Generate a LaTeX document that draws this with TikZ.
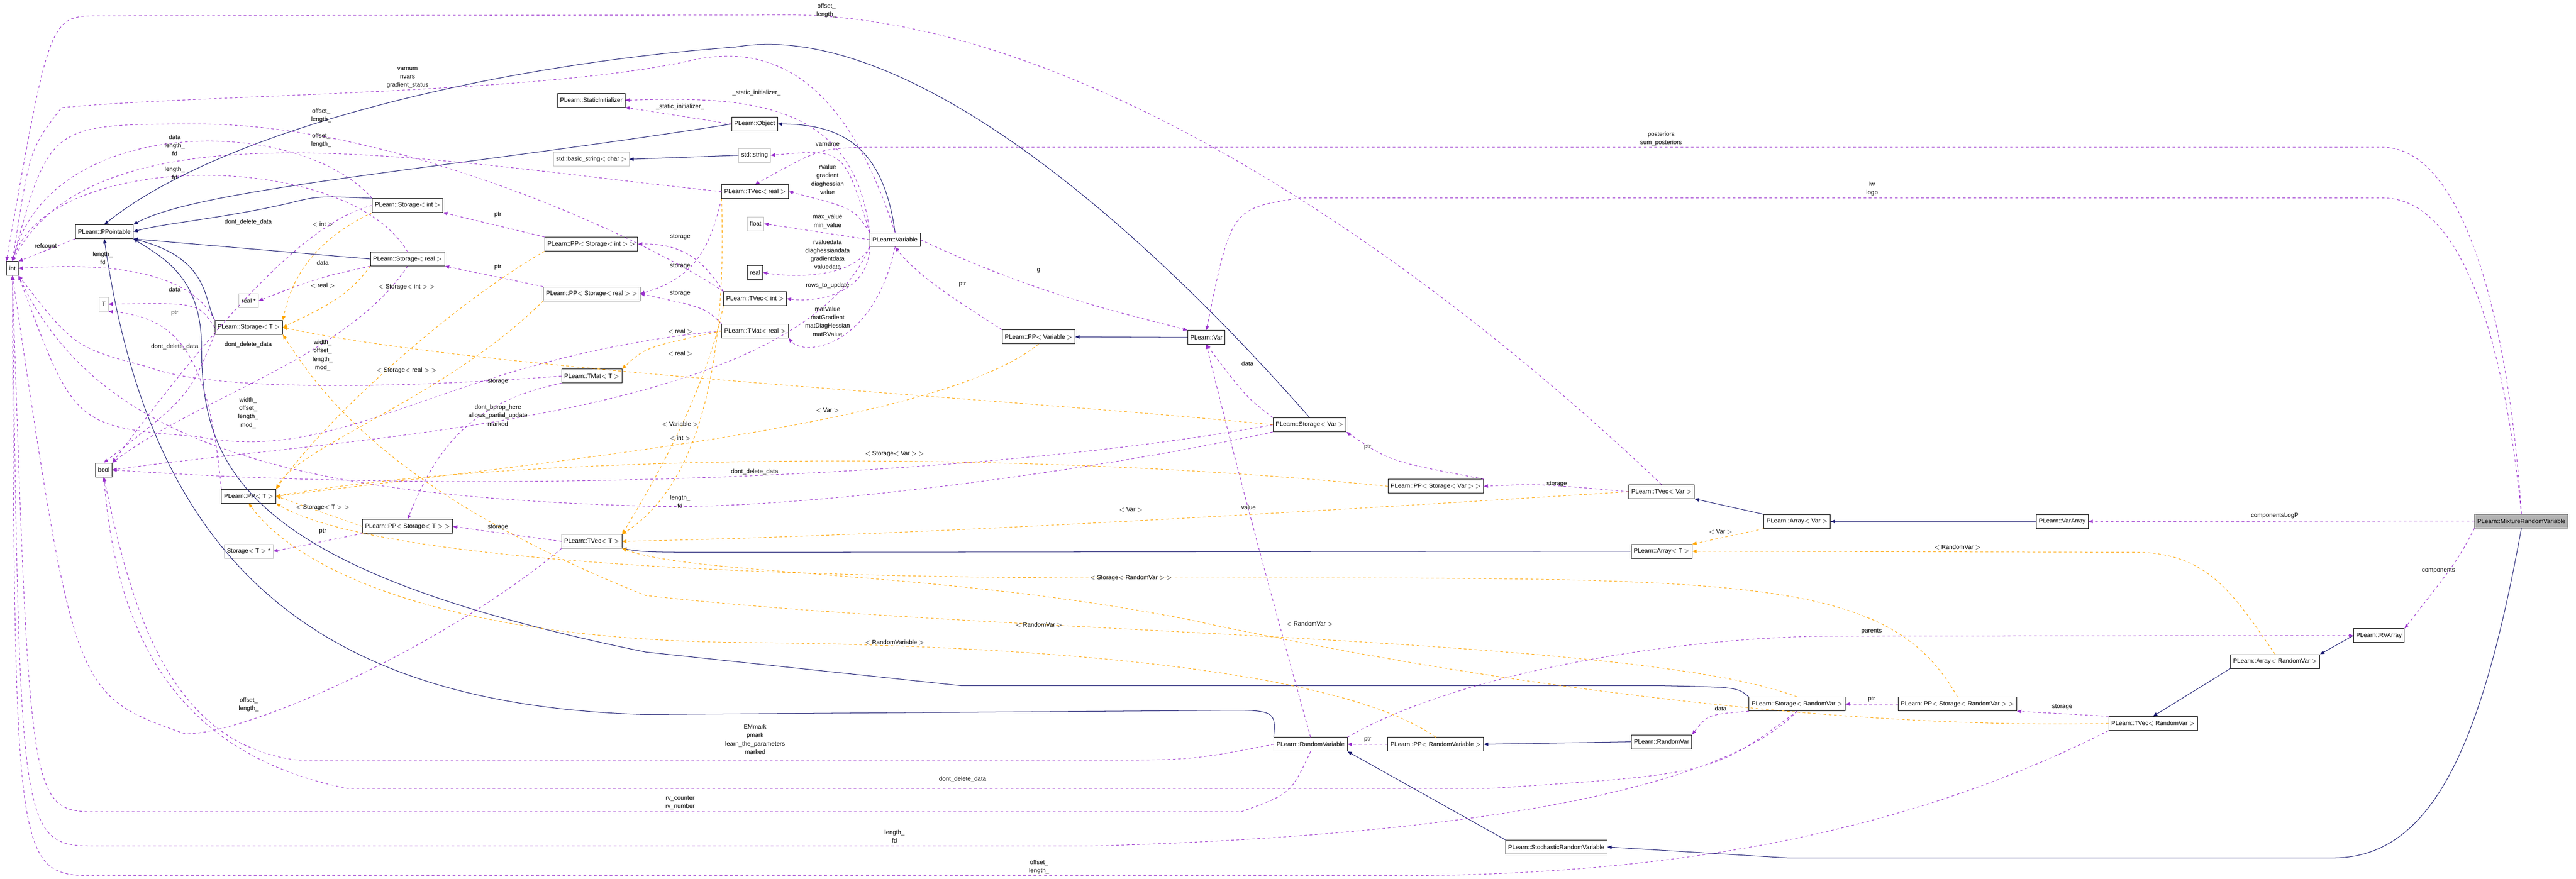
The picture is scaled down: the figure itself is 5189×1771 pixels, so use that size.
\documentclass[tikz,border=0pt]{standalone}
\usepackage{fontspec}
\setmainfont{Liberation Sans}
\usepackage{tikz}
\usetikzlibrary{arrows.meta}
\definecolor{inhcol}{HTML}{191970}
\definecolor{usecol}{HTML}{9A32CD}
\definecolor{tplcol}{HTML}{FFA500}
\tikzset{
  cls/.style={draw=black,line width=0.5pt,fill=white,minimum height=0.56cm,inner xsep=3pt,inner ysep=1pt,font=\fontsize{7}{8}\selectfont},
  extcls/.style={cls,draw=gray!50},
  lbl/.style={align=center,inner sep=0pt,font=\fontsize{7}{9.6}\selectfont},
  inh/.style={draw=inhcol,line width=0.6pt,-{Triangle[length=5pt,width=4pt]}},
  use/.style={draw=usecol,dashed,line width=0.6pt,-{Triangle[length=5pt,width=4pt]}},
  tpl/.style={draw=tplcol,dashed,line width=0.6pt,-{Triangle[length=5pt,width=4pt]}}
}
\begin{document}
\begin{tikzpicture}[x=0.02cm,y=-0.02cm]
\useasboundingbox (0,0) rectangle (5189,1771);
% classes
\node[cls] (Int) at (25,541) {int};
\node[cls] (PPointable) at (210,467) {PLearn::PPointable};
\node[cls] (Bool) at (209,947) {bool};
\node[extcls] (TT) at (209,613) {T};
\node[cls] (StorageInt) at (821,414) {PLearn::Storage$<$ int $>$};
\node[cls] (StorageReal) at (821,522) {PLearn::Storage$<$ real $>$};
\node[cls] (StorageT) at (501,660) {PLearn::Storage$<$ T $>$};
\node[extcls] (RealPtr) at (501,606) {real *};
\node[cls] (PPT) at (501,1000) {PLearn::PP$<$ T $>$};
\node[cls] (PPStorageT) at (821,1061) {PLearn::PP$<$ Storage$<$ T $>$ $>$};
\node[extcls] (StorageTPtr) at (501,1111) {Storage$<$ T $>$ *};
\node[cls] (StaticInit) at (1191,202) {PLearn::StaticInitializer};
\node[extcls] (BasicString) at (1191,321) {std::basic\_string$<$ char $>$};
\node[cls] (PPStorageInt) at (1191,492) {PLearn::PP$<$ Storage$<$ int $>$ $>$};
\node[cls] (PPStorageReal) at (1192,592) {PLearn::PP$<$ Storage$<$ real $>$ $>$};
\node[cls] (TMatT) at (1192,758) {PLearn::TMat$<$ T $>$};
\node[cls] (TVecT) at (1192,1091) {PLearn::TVec$<$ T $>$};
\node[cls] (Object) at (1520,250) {PLearn::Object};
\node[extcls] (StdString) at (1520,313) {std::string};
\node[cls] (TVecReal) at (1521,386) {PLearn::TVec$<$ real $>$};
\node[extcls] (Float) at (1522,451) {float};
\node[cls] (Real) at (1521,549) {real};
\node[cls] (TVecInt) at (1521,602) {PLearn::TVec$<$ int $>$};
\node[cls] (TMatReal) at (1521,667) {PLearn::TMat$<$ real $>$};
\node[cls] (Variable) at (1803,483) {PLearn::Variable};
\node[cls] (PPVariable) at (2092,679) {PLearn::PP$<$ Variable $>$};
\node[cls] (Var) at (2430,680) {PLearn::Var};
\node[cls] (StorageVar) at (2638,856) {PLearn::Storage$<$ Var $>$};
\node[cls] (PPStorageVar) at (2892,980) {PLearn::PP$<$ Storage$<$ Var $>$ $>$};
\node[cls] (TVecVar) at (3347,991) {PLearn::TVec$<$ Var $>$};
\node[cls] (ArrayVar) at (3620,1051) {PLearn::Array$<$ Var $>$};
\node[cls] (VarArray) at (4154,1051) {PLearn::VarArray};
\node[cls] (ArrayT) at (3347,1111) {PLearn::Array$<$ T $>$};
\node[cls] (RandomVariable) at (2640,1500) {PLearn::RandomVariable};
\node[cls] (PPRandomVariable) at (2892,1500) {PLearn::PP$<$ RandomVariable $>$};
\node[cls] (RandomVar) at (3347,1495) {PLearn::RandomVar};
\node[cls] (StorageRandomVar) at (3620,1419) {PLearn::Storage$<$ RandomVar $>$};
\node[cls] (PPStorageRandomVar) at (3943,1419) {PLearn::PP$<$ Storage$<$ RandomVar $>$ $>$};
\node[cls] (TVecRandomVar) at (4337,1458) {PLearn::TVec$<$ RandomVar $>$};
\node[cls] (ArrayRandomVar) at (4583,1333) {PLearn::Array$<$ RandomVar $>$};
\node[cls] (RVArray) at (4792,1281) {PLearn::RVArray};
\node[cls] (StochasticRV) at (3135,1707) {PLearn::StochasticRandomVariable};
\node[cls,fill=gray!60] (Mixture) at (5079,1050) {PLearn::MixtureRandomVariable};

% inheritance
\draw[inh] (StorageInt.north west) .. controls (640,395) .. (580,410) .. controls (450,440) and (330,450) .. (PPointable.east);
\draw[inh] (StorageReal.west) -- (PPointable.south east);
\draw[inh] (StorageT.north west) .. controls (410,600) and (420,520) .. (PPointable.south east);
\draw[inh] (Object.west) .. controls (900,340) and (400,380) .. (PPointable.north east);
\draw[inh] (Variable.north) .. controls (1780,300) and (1700,250) .. (Object.east);
\draw[inh] (StdString.west) -- (BasicString.east);
\draw[inh] (StorageVar.north) .. controls (2250,400) and (1800,40) .. (1480,95) .. controls (1000,130) and (450,260) .. (PPointable.north);
\draw[inh] (RandomVariable.north west) .. controls (2570,1430) .. (2430,1432) -- (1300,1440) .. controls (600,1420) and (300,1100) .. (PPointable.south);
\draw[inh] (StorageRandomVar.north west) .. controls (3500,1385) .. (3350,1382) -- (1937,1382) -- (1300,1314) .. controls (500,1150) and (406,950) .. (406,700) .. controls (406,560) and (330,520) .. (PPointable.south east);
\draw[inh] (Var.west) -- (PPVariable.east);
\draw[inh] (ArrayVar.north west) -- (TVecVar.south east);
\draw[inh] (VarArray.west) -- (ArrayVar.east);
\draw[inh] (ArrayT.west) -- (1500,1113) .. controls (1300,1113) .. (TVecT.south east);
\draw[inh] (RandomVar.west) -- (PPRandomVariable.east);
\draw[inh] (StochasticRV.north west) -- (RandomVariable.south east);
\draw[inh] (Mixture.south) .. controls (5000,1500) and (4900,1729) .. (4700,1729) -- (3600,1729) -- (StochasticRV.east);
\draw[inh] (RVArray.west) -- (ArrayRandomVar.north east);
\draw[inh] (ArrayRandomVar.south west) -- (TVecRandomVar.north);

% members
\draw[use] (PPointable.south west) -- (Int.north east);
\draw[use] (StorageInt.north west) .. controls (600,230) and (100,230) .. (Int.north);
\draw[use] (StorageReal.north) .. controls (700,300) and (100,300) .. (Int.north);
\draw[use] (StorageT.north west) .. controls (380,540) and (200,530) .. (Int.east);
\draw[use] (Variable.north) .. controls (1700,150) and (1550,90) .. (1400,120) .. controls (1100,190) and (400,190) .. (124,217) .. controls (60,300) .. (Int.north);
\draw[use] (TVecReal.west) .. controls (900,330) and (200,190) .. (Int.north);
\draw[use] (TVecInt.north west) .. controls (1300,480) and (800,250) .. (400,250) .. controls (100,250) .. (Int.north);
\draw[use] (TVecVar.north) .. controls (2900,550) and (2200,40) .. (1600,30) -- (200,32) .. controls (100,32) .. (Int.north west);
\draw[use] (TMatT.west) .. controls (700,790) and (400,780) .. (300,740) .. controls (150,700) .. (Int.south east);
\draw[use] (TMatReal.west) .. controls (900,720) and (700,940) .. (400,880) .. controls (150,860) .. (Int.south east);
\draw[use] (TVecT.south west) .. controls (900,1300) and (500,1480) .. (373,1479) .. controls (150,1400) .. (Int.south);
\draw[use] (RandomVariable.south) .. controls (2600,1600) .. (2500,1636) -- (200,1636) .. controls (60,1636) .. (Int.south);
\draw[use] (StorageRandomVar.south) .. controls (3500,1560) and (3100,1680) .. (2200,1705) -- (200,1705) .. controls (40,1705) .. (Int.south);
\draw[use] (TVecRandomVar.south west) .. controls (3800,1700) and (3300,1765) .. (2800,1765) -- (200,1765) .. controls (30,1765) .. (Int.south);
\draw[use] (StorageVar.south west) .. controls (2200,950) and (1600,1030) .. (1300,1020) .. controls (600,1000) and (200,900) .. (Int.south east);
\draw[use] (StorageInt.west) .. controls (600,450) and (400,700) .. (Bool.north east);
\draw[use] (StorageReal.south) .. controls (700,720) and (400,800) .. (Bool.north east);
\draw[use] (StorageT.south west) .. controls (380,800) .. (Bool.north);
\draw[use] (StorageVar.west) .. controls (2000,960) and (1000,1000) .. (Bool.east);
\draw[use] (Variable.south west) .. controls (1600,850) and (700,880) .. (Bool.east);
\draw[use] (RandomVariable.west) .. controls (2400,1532) .. (2200,1532) -- (600,1532) .. controls (330,1500) and (260,1200) .. (Bool.south);
\draw[use] (StorageRandomVar.south) .. controls (3450,1560) .. (3000,1589) -- (700,1589) .. controls (300,1510) and (230,1200) .. (Bool.south);
\draw[use] (StorageT.west) .. controls (400,610) .. (TT.east);
\draw[use] (PPT.north west) .. controls (420,700) and (350,640) .. (TT.south east);
\draw[use] (StorageReal.south west) .. controls (640,560) .. (RealPtr.east);
\draw[use] (PPStorageInt.north west) -- (StorageInt.south east);
\draw[use] (PPStorageReal.north west) -- (StorageReal.south east);
\draw[use] (PPStorageT.south west) -- (StorageTPtr.east);
\draw[use] (TVecT.west) .. controls (1050,1080) .. (PPStorageT.east);
\draw[use] (TMatT.south west) .. controls (950,810) and (880,900) .. (PPStorageT.north);
\draw[use] (Object.west) -- (StaticInit.south east);
\draw[use] (Variable.north west) .. controls (1720,200) and (1500,195) .. (StaticInit.east);
\draw[use] (Variable.north west) .. controls (1700,300) .. (StdString.east);
\draw[use] (Variable.north west) .. controls (1720,420) .. (TVecReal.east);
\draw[use] (Variable.west) -- (Float.east);
\draw[use] (Variable.south west) .. controls (1720,560) and (1600,560) .. (Real.east);
\draw[use] (Variable.south west) .. controls (1750,590) and (1650,610) .. (TVecInt.east);
\draw[use] (Variable.south) .. controls (1760,700) and (1620,720) .. (TMatReal.south east);
\draw[use] (TVecInt.north west) .. controls (1420,530) and (1380,490) .. (PPStorageInt.east);
\draw[use] (TVecReal.south west) .. controls (1430,500) and (1400,560) .. (PPStorageReal.east);
\draw[use] (TMatReal.north west) .. controls (1420,620) .. (PPStorageReal.east);
\draw[use] (PPVariable.north west) .. controls (1950,620) and (1850,560) .. (Variable.south);
\draw[use] (Variable.east) .. controls (2100,600) and (2300,640) .. (Var.north west);
\draw[use] (StorageVar.north west) .. controls (2510,800) .. (Var.south);
\draw[use] (PPStorageVar.north east) .. controls (2800,930) .. (StorageVar.south east);
\draw[use] (TVecVar.west) .. controls (3100,975) .. (PPStorageVar.east);
\draw[use] (RandomVariable.north) .. controls (2560,1200) and (2480,900) .. (Var.south);
\draw[use] (PPRandomVariable.west) -- (RandomVariable.east);
\draw[use] (StorageRandomVar.south west) .. controls (3440,1440) .. (RandomVar.north east);
\draw[use] (PPStorageRandomVar.west) -- (StorageRandomVar.east);
\draw[use] (TVecRandomVar.north west) -- (PPStorageRandomVar.south east);
\draw[use] (RandomVariable.north east) .. controls (2950,1350) and (3400,1282) .. (3700,1282) -- (RVArray.west);
\draw[use] (Mixture.north) .. controls (5050,600) and (4950,297) .. (4800,297) -- (1737,297) .. controls (1650,300) .. (TVecReal.north);
\draw[use] (Mixture.north) .. controls (5040,650) and (4950,399) .. (4800,399) -- (2620,399) .. controls (2480,420) .. (Var.north);
\draw[use] (Mixture.west) -- (VarArray.east);
\draw[use] (Mixture.south west) .. controls (4950,1130) .. (RVArray.north east);

% templates
\draw[tpl] (StorageInt.south west) .. controls (600,500) and (580,600) .. (StorageT.north east);
\draw[tpl] (StorageReal.south west) .. controls (700,600) and (650,620) .. (StorageT.east);
\draw[tpl] (StorageVar.west) .. controls (2000,800) and (1000,750) .. (StorageT.east);
\draw[tpl] (StorageRandomVar.north) .. controls (3300,1280) and (2000,1280) .. (1300,1200) .. controls (800,1000) and (650,800) .. (StorageT.south east);
\draw[tpl] (PPStorageInt.south west) .. controls (900,620) and (650,850) .. (PPT.north east);
\draw[tpl] (PPStorageReal.south west) .. controls (900,800) and (600,900) .. (PPT.north east);
\draw[tpl] (PPStorageT.west) -- (PPT.east);
\draw[tpl] (PPVariable.south) .. controls (1900,850) and (1200,920) .. (PPT.east);
\draw[tpl] (PPStorageVar.west) .. controls (2000,900) and (1000,920) .. (PPT.east);
\draw[tpl] (PPStorageRandomVar.north) .. controls (3800,1150) and (3500,1165) .. (2300,1165) .. controls (1200,1165) and (700,1100) .. (PPT.south east);
\draw[tpl] (PPRandomVariable.north) .. controls (2700,1350) and (2100,1300) .. (1500,1295) .. controls (900,1290) and (600,1150) .. (PPT.south);
\draw[tpl] (TMatReal.west) .. controls (1300,700) .. (TMatT.north east);
\draw[tpl] (TVecReal.south west) .. controls (1460,600) and (1450,950) .. (TVecT.north east);
\draw[tpl] (TVecInt.south west) .. controls (1420,800) and (1300,1000) .. (TVecT.north east);
\draw[tpl] (TVecVar.west) .. controls (2500,1040) and (1800,1080) .. (TVecT.east);
\draw[tpl] (TVecRandomVar.west) .. controls (3700,1470) and (3000,1380) .. (2400,1250) .. controls (1900,1150) and (1400,1160) .. (TVecT.south east);
\draw[tpl] (ArrayVar.south west) -- (ArrayT.north east);
\draw[tpl] (ArrayRandomVar.north) .. controls (4500,1200) and (4450,1113) .. (4300,1113) -- (ArrayT.east);

% labels
\node[lbl] (LRefcount) at (92,495) {refcount};
\node[lbl] (LVarnum) at (821,156) {varnum\\nvars\\gradient\_status};
\node[lbl] (LOffA) at (647,233) {offset\_\\length\_};
\node[lbl] (LOffB) at (647,283) {offset\_\\length\_};
\node[lbl] (LOffTop) at (1665,21) {offset\_\\length\_};
\node[lbl] (LDataLen) at (352,293) {data\\length\_\\fd};
\node[lbl] (LLenA) at (352,349) {length\_\\fd};
\node[lbl] (LLenB) at (207,520) {length\_\\fd};
\node[lbl] (LDdA) at (500,448) {dont\_delete\_data};
\node[lbl] (LInt) at (650,452) {$<$ int $>$};
\node[lbl] (LPtrA) at (1003,433) {ptr};
\node[lbl] (LDataA) at (650,530) {data};
\node[lbl] (LPtrB) at (1003,538) {ptr};
\node[lbl] (LReal) at (650,576) {$<$ real $>$};
\node[lbl] (LSInt) at (819,579) {$<$ Storage$<$ int $>$ $>$};
\node[lbl] (LDataB) at (352,584) {data};
\node[lbl] (LPtrC) at (352,631) {ptr};
\node[lbl] (LDdB) at (352,699) {dont\_delete\_data};
\node[lbl] (LDdC) at (500,695) {dont\_delete\_data};
\node[lbl] (LWidthA) at (650,716) {width\_\\offset\_\\length\_\\mod\_};
\node[lbl] (LSReal) at (819,747) {$<$ Storage$<$ real $>$ $>$};
\node[lbl] (LStorA) at (1003,769) {storage};
\node[lbl] (LWidthB) at (500,832) {width\_\\offset\_\\length\_\\mod\_};
\node[lbl] (LBprop) at (1003,837) {dont\_bprop\_here\\allows\_partial\_update\\marked};
\node[lbl] (LST) at (650,1023) {$<$ Storage$<$ T $>$ $>$};
\node[lbl] (LPtrD) at (650,1071) {ptr};
\node[lbl] (LStorB) at (1003,1063) {storage};
\node[lbl] (LOffC) at (501,1420) {offset\_\\length\_};
\node[lbl] (LSIA) at (1524,187) {\_static\_initializer\_};
\node[lbl] (LSIB) at (1370,215) {\_static\_initializer\_};
\node[lbl] (LVarname) at (1667,291) {varname};
\node[lbl] (LRValue) at (1667,362) {rValue\\gradient\\diaghessian\\value};
\node[lbl] (LMax) at (1667,446) {max\_value\\min\_value};
\node[lbl] (LRvd) at (1667,513) {rvaluedata\\diaghessiandata\\gradientdata\\valuedata};
\node[lbl] (LRows) at (1667,575) {rows\_to\_update};
\node[lbl] (LMat) at (1667,648) {matValue\\matGradient\\matDiagHessian\\matRValue};
\node[lbl] (LStorC) at (1370,477) {storage};
\node[lbl] (LStorD) at (1370,536) {storage};
\node[lbl] (LStorE) at (1370,591) {storage};
\node[lbl] (LRealB) at (1370,668) {$<$ real $>$};
\node[lbl] (LRealC) at (1370,713) {$<$ real $>$};
\node[lbl] (LG) at (2092,545) {g};
\node[lbl] (LPtrE) at (1939,573) {ptr};
\node[lbl] (LVarA) at (1667,827) {$<$ Var $>$};
\node[lbl] (LVariable) at (1370,855) {$<$ Variable $>$};
\node[lbl] (LIntB) at (1370,883) {$<$ int $>$};
\node[lbl] (LSVar) at (1802,915) {$<$ Storage$<$ Var $>$ $>$};
\node[lbl] (LDdD) at (1520,951) {dont\_delete\_data};
\node[lbl] (LLenC) at (1370,1011) {length\_\\fd};
\node[lbl] (LValue) at (2515,1022) {value};
\node[lbl] (LVarB) at (2278,1027) {$<$ Var $>$};
\node[lbl] (LSRV) at (2278,1165) {$<$ Storage$<$ RandomVar $>$ $>$};
\node[lbl] (LRVA) at (2093,1260) {$<$ RandomVar $>$};
\node[lbl] (LRVB) at (2638,1257) {$<$ RandomVar $>$};
\node[lbl] (LRVariable) at (1802,1295) {$<$ RandomVariable $>$};
\node[lbl] (LEM) at (1521,1490) {EMmark\\pmark\\learn\_the\_parameters\\marked};
\node[lbl] (LPtrF) at (2755,1490) {ptr};
\node[lbl] (LDdE) at (1939,1571) {dont\_delete\_data};
\node[lbl] (LRvc) at (1370,1618) {rv\_counter\\rv\_number};
\node[lbl] (LLenD) at (1802,1686) {length\_\\fd};
\node[lbl] (LOffD) at (2093,1747) {offset\_\\length\_};
\node[lbl] (LPtrG) at (2755,901) {ptr};
\node[lbl] (LDataC) at (2513,733) {data};
\node[lbl] (LPost) at (3346,280) {posteriors\\sum\_posteriors};
\node[lbl] (LLw) at (3771,380) {lw\\logp};
\node[lbl] (LStorF) at (3136,975) {storage};
\node[lbl] (LVarC) at (3466,1072) {$<$ Var $>$};
\node[lbl] (LRVC) at (3943,1103) {$<$ RandomVar $>$};
\node[lbl] (LParents) at (3770,1272) {parents};
\node[lbl] (LPtrH) at (3770,1409) {ptr};
\node[lbl] (LDataD) at (3466,1428) {data};
\node[lbl] (LStorG) at (4154,1425) {storage};
\node[lbl] (LCLogP) at (4582,1040) {componentsLogP};
\node[lbl] (LComp) at (4912,1150) {components};
\end{tikzpicture}
\end{document}
